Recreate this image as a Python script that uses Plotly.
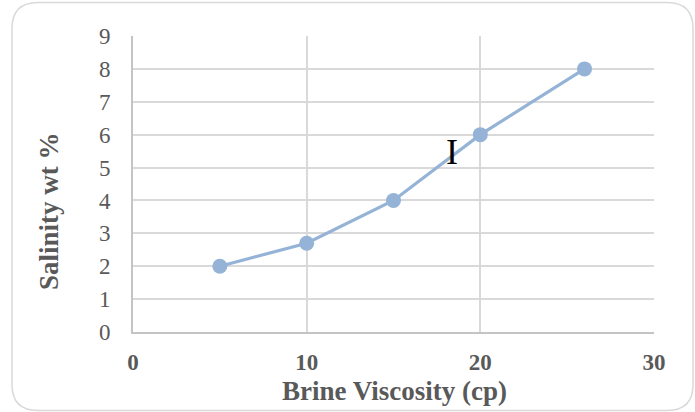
import plotly.graph_objects as go

# Brine viscosity (cp) vs salinity (wt %)
viscosity = [5, 10, 15, 20, 26]
salinity = [2, 2.7, 4, 6, 8]

x_ticks = [0, 10, 20, 30]
y_ticks = [0, 1, 2, 3, 4, 5, 6, 7, 8, 9]

W, H = 695, 412
L, R, T, B = 133, 41, 36, 80
SERIF = "Liberation Serif, Times New Roman, serif"
GREY = "#595959"


def px(x):
    return (x - L) / (W - L - R)


def py(y):
    return (H - B - y) / (H - T - B)


fig = go.Figure()
fig.add_trace(go.Scatter(
    x=viscosity, y=salinity, mode="lines+markers",
    line=dict(color="#95b3d7", width=3.2),
    marker=dict(color="#95b3d7", size=15),
    showlegend=False, hoverinfo="skip",
))

# rounded chart-area border
x0, x1, y0, y1, r = 12, 693, 2.5, 410.5, 26
path = (
    f"M {px(x0 + r)},{py(y0)} L {px(x1 - r)},{py(y0)} "
    f"Q {px(x1)},{py(y0)} {px(x1)},{py(y0 + r)} "
    f"L {px(x1)},{py(y1 - r)} "
    f"Q {px(x1)},{py(y1)} {px(x1 - r)},{py(y1)} "
    f"L {px(x0 + r)},{py(y1)} "
    f"Q {px(x0)},{py(y1)} {px(x0)},{py(y1 - r)} "
    f"L {px(x0)},{py(y0 + r)} "
    f"Q {px(x0)},{py(y0)} {px(x0 + r)},{py(y0)} Z"
)
fig.add_shape(type="path", path=path, xref="paper", yref="paper",
              line=dict(color="#d9d9d9", width=1.5), layer="below")

fig.add_annotation(x=px(394), y=py(391), xref="paper", yref="paper",
                   xanchor="center", yanchor="middle",
                   text="<b>Brine Viscosity (cp)</b>", showarrow=False,
                   font=dict(family=SERIF, size=27, color=GREY))
fig.add_annotation(x=px(49), y=py(211), xref="paper", yref="paper",
                   xanchor="center", yanchor="middle",
                   text="<b>Salinity wt %</b>", showarrow=False, textangle=-90,
                   font=dict(family=SERIF, size=27, color=GREY))
fig.add_annotation(x=18.35, y=5.48, text="I", showarrow=False,
                   xanchor="center", yanchor="middle",
                   font=dict(family=SERIF, size=36, color="black"))

fig.update_xaxes(
    range=[0, 30], tickvals=x_ticks, ticktext=[f"<b>{v}</b>" for v in x_ticks],
    showgrid=True, gridcolor="#d9d9d9", gridwidth=1.5,
    showline=True, linecolor="#c4c4c4", linewidth=2, mirror=False,
    zeroline=False, ticks="", ticklabelstandoff=8,
    tickfont=dict(family=SERIF, size=23, color=GREY), fixedrange=True,
)
fig.update_yaxes(
    range=[0, 9], tickvals=y_ticks,
    showgrid=True, gridcolor="#d9d9d9", gridwidth=1.5,
    showline=True, linecolor="#c4c4c4", linewidth=2,
    zeroline=False, ticks="", ticklabelstandoff=16,
    tickfont=dict(family=SERIF, size=23, color=GREY), fixedrange=True,
)
fig.update_layout(
    width=W, height=H, margin=dict(l=L, r=R, t=T, b=B),
    paper_bgcolor="white", plot_bgcolor="white",
)
fig.write_html("out.html")
